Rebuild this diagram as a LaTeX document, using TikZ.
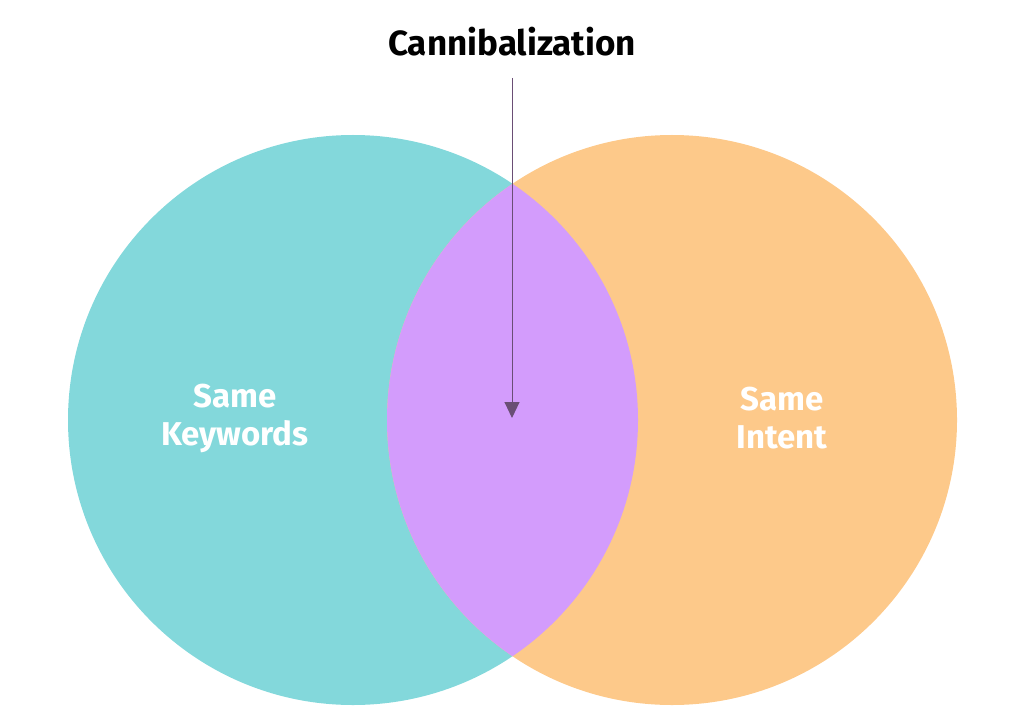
\documentclass[tikz,border=0pt]{standalone}
\usepackage{fontspec}
\setmainfont{Fira Sans}
\usetikzlibrary{arrows.meta}
\definecolor{teal}{HTML}{83D8DB}
\definecolor{orng}{HTML}{FDC98A}
\definecolor{purp}{HTML}{D39CFC}
\definecolor{arr}{HTML}{6A4E75}
\begin{document}
\begin{tikzpicture}[x=1pt,y=-1pt,
  lbl/.style={text=white,font=\fontsize{33}{38}\selectfont\bfseries,align=center}]
\useasboundingbox (0,0) rectangle (1024,711);
\fill[teal] (353,420) circle (285);
\fill[orng] (672,420) circle (285);
\begin{scope}
\clip (353,420) circle (285);
\fill[purp] (672,420) circle (285);
\end{scope}
\node[font=\fontsize{35}{40}\selectfont\bfseries] (t) at (512,42) {Cannibalization};
\coordinate (a0) at (512,78);
\coordinate (a1) at (512,418);
\draw[arr,line width=1pt,-{Triangle[length=16pt,width=15pt]}] (a0) -- (a1);
\node[lbl] (k) at (235,418) {Same\\Keywords};
\node[lbl] (i) at (782,418) {Same\\Intent};
\end{tikzpicture}
\end{document}
